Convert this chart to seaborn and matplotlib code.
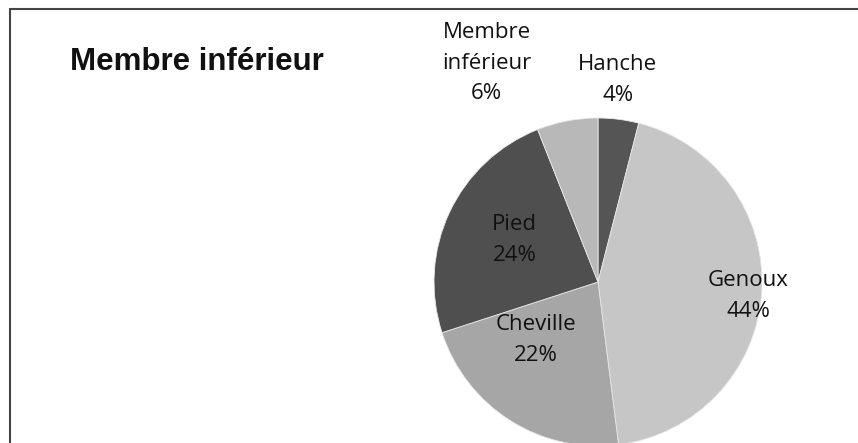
import matplotlib
matplotlib.use("Agg")
import matplotlib.pyplot as plt
from matplotlib.lines import Line2D
import seaborn as sns

# ---- data ----
categories = ["Hanche", "Genoux", "Cheville", "Pied", "Membre\ninférieur"]
values = [4, 44, 22, 24, 6]
title = "Membre inférieur"

# ---- style ----
colors = ["#555555", "#c6c6c6", "#a6a6a6", "#4f4f4f", "#b8b8b8"]
# label positions in pie units (radius = 1)
label_xy = [(0.12, 1.23), (0.915, -0.085), (-0.38, -0.355), (-0.51, 0.255), (-0.68, 1.335)]

sns.set_theme(style="white")
plt.rcParams["font.family"] = ["Open Sans", "DejaVu Sans"]

W, H = 858, 443
fig = plt.figure(figsize=(W / 100, H / 100), dpi=100)
fig.patch.set_facecolor("white")

cx, cy, R = 598, 282, 164
ax = fig.add_axes([(cx - R) / W, (H - cy - R) / H, 2 * R / W, 2 * R / H])
wedges, _ = ax.pie(values, colors=colors, startangle=90, counterclock=False,
                   radius=1, wedgeprops=dict(edgecolor="#e8e8e8", linewidth=0.6))
ax.set_xlim(-1, 1)
ax.set_ylim(-1, 1)
ax.set_aspect("equal")
ax.axis("off")

total = sum(values)
for cat, v, (x, y) in zip(categories, values, label_xy):
    ax.text(x, y, f"{cat}\n{round(100 * v / total)}%", ha="center", va="center",
            fontsize=16, color="#111111", linespacing=1.6, clip_on=False)

fig.text(70 / W, 1 - 70 / H, title, fontsize=22.5, fontweight="bold",
         family=["Liberation Sans", "DejaVu Sans"], color="#111111",
         ha="left", va="baseline")

# frame lines (left and top)
fig.add_artist(Line2D([10 / W, 10 / W], [0, 1 - 9 / H], transform=fig.transFigure,
                      color="#444444", linewidth=1.5))
fig.add_artist(Line2D([10 / W, 1], [1 - 9 / H, 1 - 9 / H], transform=fig.transFigure,
                      color="#444444", linewidth=1.5))

fig.savefig("out.png", dpi=100)
